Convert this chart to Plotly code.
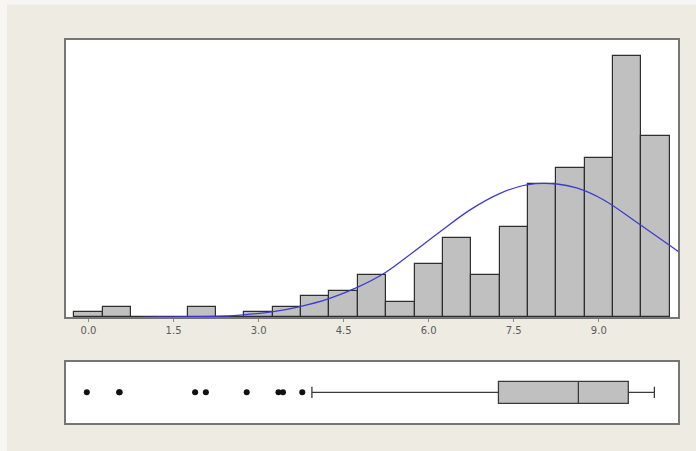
import plotly.graph_objects as go

# ---- data ----
bin_centers = [0.0, 0.5, 1.0, 1.5, 2.0, 2.5, 3.0, 3.5, 4.0, 4.5, 5.0,
               5.5, 6.0, 6.5, 7.0, 7.5, 8.0, 8.5, 9.0, 9.5, 10.0]
bin_counts = [1, 2, 0, 0, 2, 0, 1, 2, 4, 5, 8,
              3, 10, 15, 8, 17, 25, 28, 30, 49, 34]
bin_width = 0.5

# fitted normal curve
curve_x = [0.91, 1.61, 2.20, 2.73, 3.26, 3.73, 4.23, 4.73, 5.23, 5.73,
           6.20, 6.73, 7.26, 7.73, 8.26, 8.61, 9.08, 9.73, 10.40]
curve_y = [0.0, 0.12, 0.2, 0.5, 1.1, 2.05, 3.5, 5.6, 8.4, 12.3,
           16.1, 20.2, 23.3, 24.9, 25.05, 24.3, 22.1, 17.4, 12.4]

# boxplot statistics
box_lowerfence = 3.94
box_q1 = 7.23
box_median = 8.64
box_q3 = 9.52
box_upperfence = 9.98
outliers = [-0.03, 0.54, 0.55, 1.88, 2.07, 2.79, 3.35, 3.43, 3.77]

tick_vals = [0.0, 1.5, 3.0, 4.5, 6.0, 7.5, 9.0]
tick_text = ["0.0", "1.5", "3.0", "4.5", "6.0", "7.5", "9.0"]

# ---- figure ----
BEIGE = "#EEEBE3"
FRAME = "#767676"

fig = go.Figure()

fig.add_trace(go.Bar(
    x=bin_centers, y=bin_counts, width=bin_width,
    marker=dict(color="#C0C0C0", line=dict(color="#2e2e2e", width=1.2)),
    xaxis="x", yaxis="y", showlegend=False, hoverinfo="x+y"))

fig.add_trace(go.Scatter(
    x=curve_x, y=curve_y, mode="lines",
    line=dict(color="#3B3BD0", width=1.3, shape="spline", smoothing=1.0),
    xaxis="x", yaxis="y", showlegend=False))

fig.add_trace(go.Box(
    q1=[box_q1], median=[box_median], q3=[box_q3],
    lowerfence=[box_lowerfence], upperfence=[box_upperfence],
    y=[0], orientation="h", width=0.72,
    fillcolor="#C0C0C0", line=dict(color="#3a3a3a", width=1.3),
    xaxis="x2", yaxis="y2", showlegend=False))

fig.add_trace(go.Scatter(
    x=outliers, y=[0] * len(outliers), mode="markers",
    marker=dict(color="#111111", size=6, symbol="circle"),
    xaxis="x2", yaxis="y2", showlegend=False))

xr = [-0.397, 10.397]

fig.update_layout(
    width=696, height=451,
    margin=dict(l=66, r=18, t=40, b=28),
    paper_bgcolor=BEIGE, plot_bgcolor="white",
    bargap=0,
    font=dict(family="DejaVu Sans", size=10, color="#555555"),
    xaxis=dict(domain=[0, 1], range=xr, anchor="y",
               tickvals=tick_vals, ticktext=tick_text,
               ticks="outside", ticklen=3, tickcolor="#8a8a8a", tickwidth=1,
               tickfont=dict(size=10, color="#5a5a5a"),
               showline=True, linecolor=FRAME, linewidth=1.5, mirror=True,
               showgrid=False, zeroline=False),
    yaxis=dict(domain=[0.2755, 1], range=[0, 52.07], anchor="x",
               showticklabels=False, ticks="",
               showline=True, linecolor=FRAME, linewidth=1.5, mirror=True,
               showgrid=False, zeroline=False),
    xaxis2=dict(domain=[0, 1], range=xr, anchor="y2", matches="x",
                showticklabels=False, ticks="",
                showline=True, linecolor=FRAME, linewidth=1.5, mirror=True,
                showgrid=False, zeroline=False),
    yaxis2=dict(domain=[0, 0.16], range=[-1, 1], anchor="x2",
                showticklabels=False, ticks="",
                showline=True, linecolor=FRAME, linewidth=1.5, mirror=True,
                showgrid=False, zeroline=False),
    shapes=[
        dict(type="rect", xref="paper", yref="paper",
             x0=-0.11, x1=1.04, y0=1.092, y1=1.11,
             fillcolor="#F7F6F2", line=dict(width=0), layer="above"),
        dict(type="rect", xref="paper", yref="paper",
             x0=-0.11, x1=-0.0964, y0=-0.08, y1=1.11,
             fillcolor="#F7F6F2", line=dict(width=0), layer="above"),
    ],
)

fig.write_html("out.html")
